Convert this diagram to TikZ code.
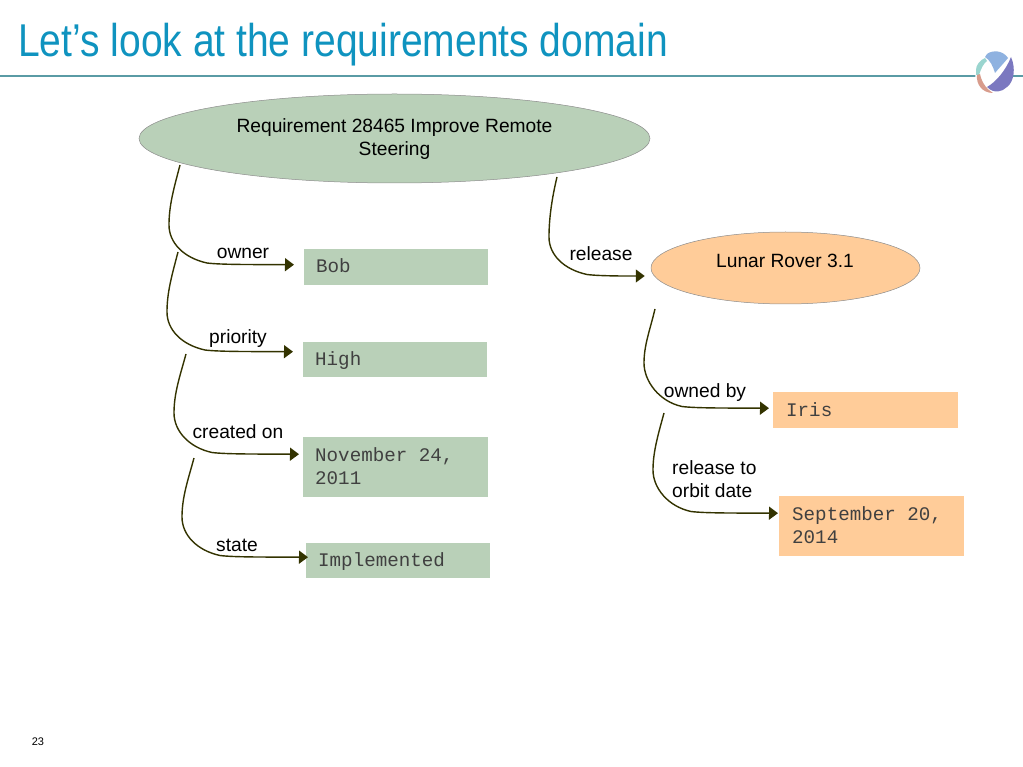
\documentclass[tikz,border=0pt]{standalone}
\usepackage{fontspec}
\setmainfont{Liberation Sans}
\setmonofont{Liberation Mono}
\newfontfamily\titlefont[FakeStretch=0.848]{Liberation Sans}
\usetikzlibrary{arrows.meta,shapes.geometric}
\definecolor{reqgreen}{HTML}{B9D0B8}
\definecolor{roverorange}{HTML}{FFCC99}
\definecolor{linkolive}{HTML}{333300}
\definecolor{titleblue}{HTML}{0F93BF}
\definecolor{ruleteal}{HTML}{5A9BA5}
\definecolor{monogray}{HTML}{404040}
\definecolor{logoblue}{HTML}{8FB2E0}
\definecolor{logopurple}{HTML}{7B78C0}
\definecolor{logoteal}{HTML}{9AD5CF}
\definecolor{logosalmon}{HTML}{D89C8C}
\begin{document}
\begin{tikzpicture}[
        x=1pt, y=-1pt,
        entity/.style={ellipse, draw=black!45, line width=0.5pt, inner sep=0pt},
        valuebox/.style={rectangle, anchor=north west, inner sep=0pt},
        valuetext/.style={anchor=base west, inner sep=0pt, align=left, text=monogray, font=\ttfamily\fontsize{19.2}{23}\selectfont},
        linklabel/.style={font=\fontsize{19.2}{23}\selectfont, inner sep=0pt, align=left},
        link/.style={-{Triangle[length=9pt,width=13pt]}, line width=1.4pt, draw=linkolive}
    ]
        \useasboundingbox (0,0) rectangle (1023,767);
        \node[anchor=base west, inner sep=0pt, text=titleblue, font=\titlefont\fontsize{46}{46}\selectfont] (title) at (18,56.5) {Let’s look at the requirements domain};
        \coordinate (ruleleft) at (0,76);
        \coordinate (ruleright) at (1023,76);
        \draw[ruleteal, line width=1.4pt] (ruleleft) -- (ruleright);
        \node[inner sep=0pt, font=\fontsize{11}{11}\selectfont] (pagenum) at (38,742) {23};

        % logo
        \fill[white] (994,72) ellipse (19pt and 23pt);
        \fill[logoblue] (987,54) .. controls (992,50) and (1003,50) .. (1008,58) .. controls (1004,63) and (999,68) .. (995,73) .. controls (993,66) and (990,60) .. (985,57) -- cycle;
        \fill[logopurple] (1011,57) .. controls (1016,68) and (1014,82) .. (1007,87) .. controls (1002,92) and (994,94) .. (987,87) .. controls (996,82) and (1006,70) .. (1011,57) -- cycle;
        \fill[logoteal] (976,70) .. controls (976,65) and (980,60) .. (985,58) -- (987,61) .. controls (983,64) and (981,69) .. (979,75) -- (976,75) -- cycle;
        \fill[logosalmon] (977,75) .. controls (976,84) and (982,93) .. (993,93) .. controls (988,90) and (982,84) .. (980,74) -- cycle;

        \node[entity, fill=reqgreen, minimum width=511pt, minimum height=89pt] (req) at (394.5,138.5) {};
        \node[linklabel, align=center, anchor=base] (reqtext) at (394.5,156) {Requirement 28465 Improve Remote\\Steering};
        \node[entity, fill=roverorange, minimum width=269pt, minimum height=72pt] (rover) at (785.5,268) {};
        \node[linklabel, anchor=base] (rovertext) at (785,268) {Lunar Rover 3.1};

        \node[valuebox, fill=reqgreen, minimum width=184pt, minimum height=36pt] (bob) at (304,249) {};
        \node[valuebox, fill=reqgreen, minimum width=184pt, minimum height=35pt] (high) at (303,342) {};
        \node[valuebox, fill=reqgreen, minimum width=185pt, minimum height=60pt] (created) at (303,437) {};
        \node[valuebox, fill=reqgreen, minimum width=184pt, minimum height=35pt] (implemented) at (306,543) {};
        \node[valuebox, fill=roverorange, minimum width=185pt, minimum height=36pt] (iris) at (773,392) {};
        \node[valuebox, fill=roverorange, minimum width=185pt, minimum height=60pt] (orbit) at (779,496) {};

        \node[valuetext] (bobtext) at (316,273) {Bob};
        \node[valuetext] (hightext) at (315,366) {High};
        \node[valuetext] (createdtext) at (315,484) {November 24,\\2011};
        \node[valuetext] (impltext) at (318,566) {Implemented};
        \node[valuetext] (iristext) at (786,416) {Iris};
        \node[valuetext] (orbittext) at (792,543) {September 20,\\2014};

        \coordinate (ownerstart) at (180,165);
        \coordinate (prioritystart) at (178,252);
        \coordinate (createdstart) at (186,354);
        \coordinate (statestart) at (194,458);
        \coordinate (releasestart) at (557,177);
        \coordinate (ownedstart) at (655,309);
        \coordinate (orbitstart) at (664,413);

        \draw[link] (ownerstart) .. controls (174,188) and (169,205) .. (169,225) .. controls (169,243) and (184,258) .. (207,263) .. controls (221,264.8) and (254,264.5) .. ([shift={(-10,-2.5)}]bob.west);
        \draw[link] (prioritystart) .. controls (172,275) and (167,292) .. (167,312) .. controls (167,330) and (182,345) .. (205,350) .. controls (219,351.8) and (252,351.5) .. ([shift={(-10,-8)}]high.west);
        \draw[link] (createdstart) .. controls (180,376) and (174,393) .. (174,413) .. controls (174,431) and (189,447.5) .. (212,452.5) .. controls (226,454.3) and (259,454) .. ([shift={(-4,-13)}]created.west);
        \draw[link] (statestart) .. controls (188,480) and (182,497) .. (182,517) .. controls (182,535) and (197,550.5) .. (220,555.5) .. controls (234,557.3) and (267,557) .. ([shift={(2,-3.5)}]implemented.west);
        \draw[link] (releasestart) .. controls (552,198) and (549,218) .. (549,237) .. controls (549,255) and (564,269.5) .. (587,274.5) .. controls (601,276.3) and (634,276) .. ([shift={(-6,8)}]rover.west);
        \draw[link] (ownedstart) .. controls (650,330) and (644,345) .. (644,363) .. controls (644,381) and (659,401.5) .. (682,406.5) .. controls (696,408.3) and (729,408) .. ([shift={(-4,-2)}]iris.west);
        \draw[link] (orbitstart) .. controls (658,435) and (653,452) .. (653,470) .. controls (653,488) and (668,506.5) .. (691,511.5) .. controls (705,513.3) and (738,513) .. ([shift={(-1,-13)}]orbit.west);

        \node[linklabel] (ownerlabel) at (243,253) {owner};
        \node[linklabel] (prioritylabel) at (238,339) {priority};
        \node[linklabel] (createdlabel) at (238,432) {created on};
        \node[linklabel] (statelabel) at (237,545) {state};
        \node[linklabel] (releaselabel) at (601,254) {release};
        \node[linklabel] (ownedlabel) at (705,393) {owned by};
        \node[linklabel, anchor=base west] (orbitlabel) at (672,497) {release to\\orbit date};
\end{tikzpicture}
\end{document}
